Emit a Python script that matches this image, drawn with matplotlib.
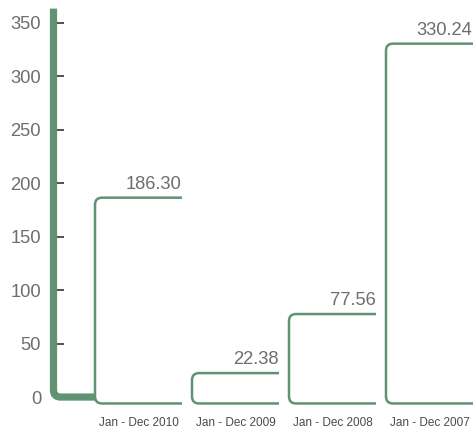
import numpy as np
import matplotlib
matplotlib.use("Agg")
import matplotlib.pyplot as plt
from matplotlib.path import Path
from matplotlib.patches import PathPatch

periods = ["Jan - Dec 2010", "Jan - Dec 2009", "Jan - Dec 2008", "Jan - Dec 2007"]
values = [186.30, 22.38, 77.56, 330.24]
value_labels = ["186.30", "22.38", "77.56", "330.24"]
yticks = [0, 50, 100, 150, 200, 250, 300, 350]

green = "#5f9373"
plt.rcParams["font.family"] = ["Liberation Sans", "DejaVu Sans"]

W, H = 473, 430
fig = plt.figure(figsize=(W / 100, H / 100), dpi=100)
# axes placement in pixels
ax_left, ax_right = 53.5, 473
ax_bottom, ax_top = 24.4, 421.4
ax = fig.add_axes([ax_left / W, ax_bottom / H, (ax_right - ax_left) / W, (ax_top - ax_bottom) / H])

xmin, xmax = -0.428, 3.897
ymin, ymax = -8, 363
ax.set_xlim(xmin, xmax)
ax.set_ylim(ymin, ymax)

px_x = (ax_right - ax_left) / (xmax - xmin)
px_y = (ax_top - ax_bottom) / (ymax - ymin)

bar_w = 0.897
bar_bottom = -6.0
r = 7.0
rx, ry = r / px_x, r / px_y

for i, (v, lab) in enumerate(zip(values, value_labels)):
    x0 = i
    verts = [(x0 + bar_w, v), (x0 + rx, v), (x0, v), (x0, v - ry),
             (x0, bar_bottom + ry), (x0, bar_bottom), (x0 + rx, bar_bottom),
             (x0 + bar_w, bar_bottom)]
    codes = [Path.MOVETO, Path.LINETO, Path.CURVE3, Path.CURVE3,
             Path.LINETO, Path.CURVE3, Path.CURVE3, Path.LINETO]
    ax.add_patch(PathPatch(Path(verts, codes), fill=False, edgecolor=green,
                           linewidth=1.8, capstyle="butt", clip_on=False, zorder=3))
    ax.text(x0 + bar_w - 0.005, v + 8.5, lab, ha="right", va="baseline",
            fontsize=13.2, color="#6e6e6e", zorder=4)

# thick axis line with rounded corner
r2 = 7
rx2, ry2 = r2 / px_x, r2 / px_y
verts = [(xmin, ymax), (xmin, ry2), (xmin, 0), (xmin + rx2, 0), (0, 0)]
codes = [Path.MOVETO, Path.LINETO, Path.CURVE3, Path.CURVE3, Path.LINETO]
ax.add_patch(PathPatch(Path(verts, codes), fill=False, edgecolor=green,
                       linewidth=5.2, capstyle="butt", clip_on=False, zorder=2))

for s in ax.spines.values():
    s.set_visible(False)

ax.set_yticks(yticks)
ax.set_yticklabels([str(t) for t in yticks])
ax.tick_params(axis="y", direction="in", length=7, width=1.1, color="#222222",
               pad=9, labelsize=13.2, labelcolor="#6e6e6e")

ax.set_xticks([i + bar_w / 2 for i in range(len(periods))])
ax.set_xticklabels(periods)
ax.tick_params(axis="x", length=0, pad=8.5, labelsize=8.5, labelcolor="#4a4a4a")

fig.savefig("out.png", dpi=100)
